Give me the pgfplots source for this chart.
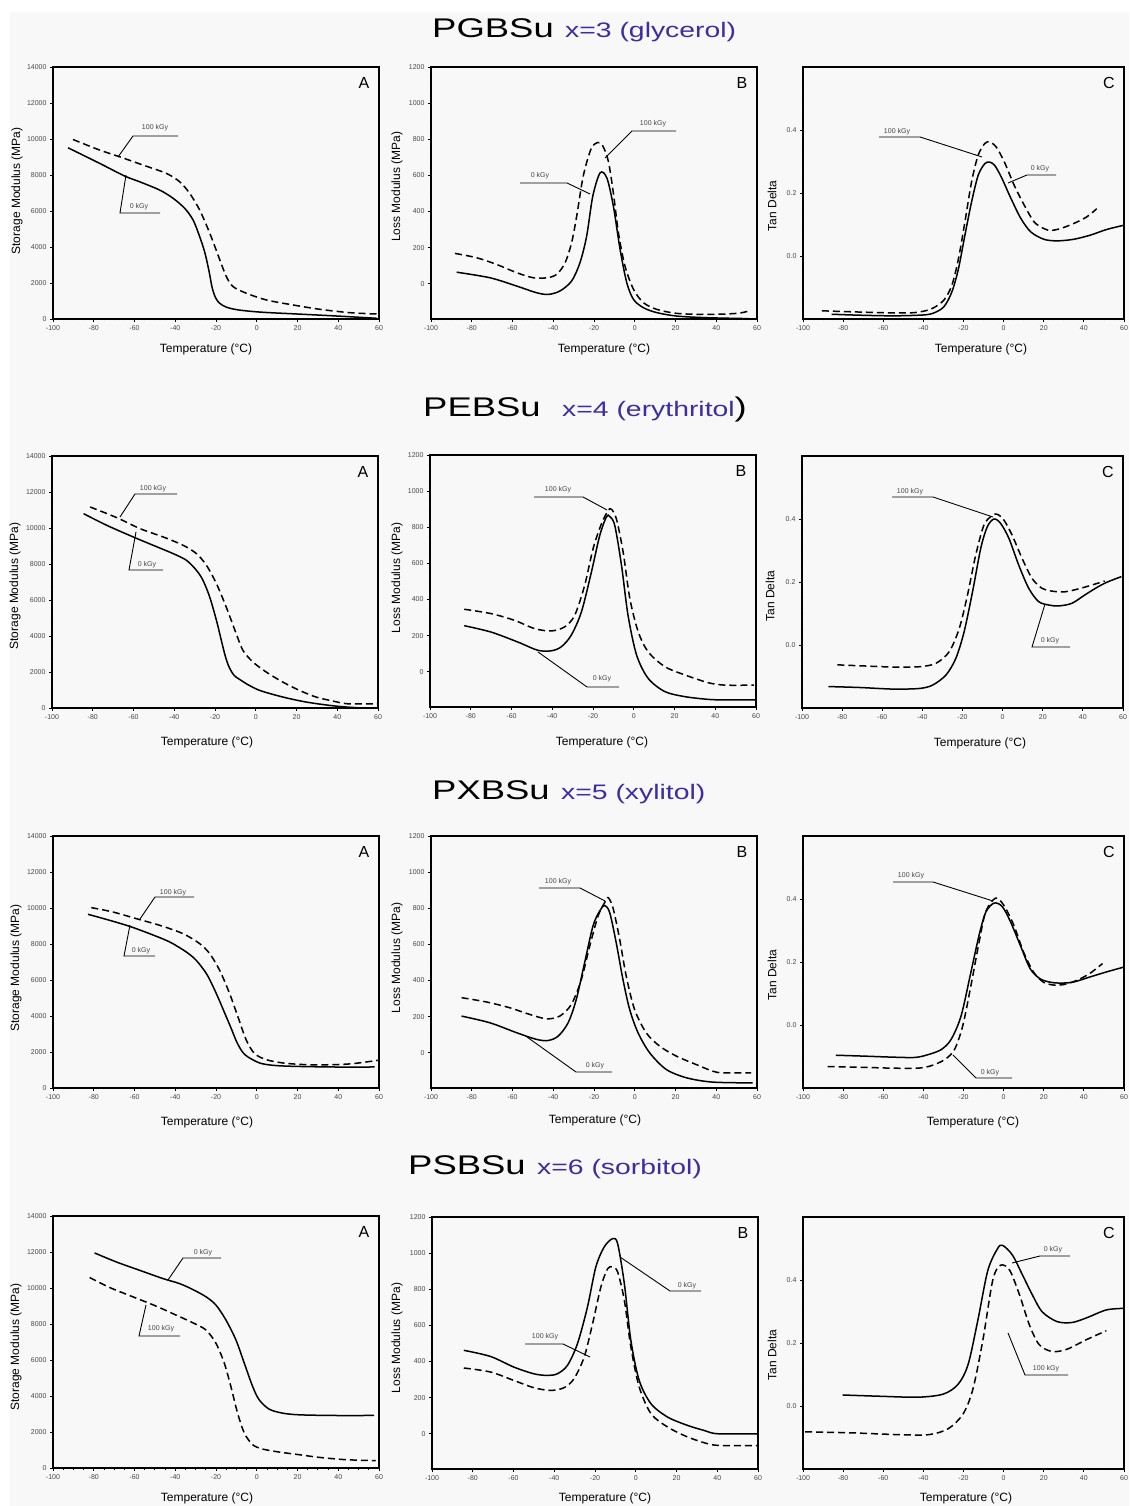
\documentclass[border=0pt]{standalone}
\usepackage{pgfplots}
\pgfplotsset{compat=1.18}
\usepackage{fontspec}
\setmainfont{Liberation Sans}
\definecolor{titleblue}{RGB}{60,45,160}
\definecolor{bg}{RGB}{248,248,248}
\definecolor{tl}{RGB}{70,70,70}

\pgfplotsset{
 panel/.style={
  scale only axis, width=326pt, height=252pt,
  anchor=south west,
  xmin=-100, xmax=60, xtick={-100,-80,...,60},
  minor x tick num=3,
  scaled x ticks=false, scaled y ticks=false,
  tick pos=left, tick align=outside,
  major tick length=3pt, minor tick length=1.5pt,
  every tick/.style={black, line width=0.8pt},
  axis line style={line width=1.6pt},
  axis background/.style={fill=bg},
  ticklabel style={font=\fontsize{7}{8}\selectfont, text=tl},
  /pgf/number format/assume math mode=true,
  /pgf/number format/set thousands separator={},
  every axis plot/.append style={line width=1.5pt, smooth, tension=0.5},
 },
 pA/.style={panel, ymin=0, ymax=14000, ytick={0,2000,...,14000}, minor y tick num=3},
 pB/.style={panel, ymin=-195, ymax=1200, ytick={0,200,...,1200}, minor y tick num=3},
 pC/.style={panel, width=321pt, ymin=-0.2, ymax=0.6, ytick={0,0.2,0.4}, minor ytick={-0.2,-0.15,...,0.6},
   yticklabel style={/pgf/number format/fixed, /pgf/number format/fixed zerofill, /pgf/number format/precision=1}},
 zero/.style={black, solid},
 hund/.style={black, dash pattern=on 7pt off 4pt},
}
\newcommand{\plet}[1]{\node[font=\fontsize{16}{18}\selectfont] at (rel axis cs:1,1) [xshift=-15pt,yshift=-16pt] {#1};}

\begin{document}
\begin{tikzpicture}[x=1pt,y=1pt]
\path[use as bounding box] (0,0) rectangle (1129,1506);
\fill[white] (0,0) rectangle (1129,1506);
\fill[bg] (10,0) rectangle (1129,1494);

% ================= Row 1 : PGBSu =================
\begin{axis}[pA, at={(53pt,1187pt)}]
\addplot[zero] coordinates {(-92.6,9510) (-77,8640) (-64.8,7940) (-57.4,7620) (-47.6,7160) (-41,6700) (-35.3,6140) (-31.2,5490) (-28,4570) (-25.5,3700) (-23.5,2700) (-22,1800) (-20.5,1250) (-18.5,900) (-15,660) (-10,520) (-3.4,430) (4.8,360) (19.6,278) (39,166) (58.8,40)};
\addplot[hund] coordinates {(-90.2,9970) (-77,9380) (-67.3,9010) (-55.8,8550) (-44.3,8085) (-37.8,7620) (-32.9,6975) (-28,6050) (-23,4750) (-18.1,3275) (-14.9,2350) (-11.6,1795) (-5,1425) (4.8,1055) (17.9,777) (31,537) (45.7,350) (58.8,277)};
\plet{A}
\end{axis}
\begin{axis}[pB, at={(431pt,1187pt)}]
\addplot[zero] coordinates {(-87.4,64) (-71,33) (-57.9,-13) (-48.1,-50) (-42.4,-59) (-36.7,-40) (-31,15) (-26.9,116) (-23.6,264) (-20.6,485) (-17,614) (-13.7,586) (-10.5,430) (-7.2,190) (-3.9,5) (-0.6,-87) (4.3,-133) (10.9,-160) (20.7,-179) (35.4,-188) (55.9,-193)};
\addplot[hund] coordinates {(-88.2,168) (-77.6,144) (-67.8,107) (-57.9,61) (-49.7,33) (-43.2,33) (-38.3,52) (-34.2,116) (-31,227) (-28.5,374) (-25.3,595) (-21.5,745) (-18.3,782) (-15.8,765) (-13,680) (-10.5,503) (-8,282) (-4.8,98) (-0.6,-31) (4.3,-105) (10.9,-142) (20.7,-164) (35.4,-170) (50.1,-164) (55.9,-151)};
\plet{B}
\end{axis}
\begin{axis}[pC, at={(803pt,1187pt)}]
\addplot[zero] coordinates {(-85.7,-0.185) (-71.8,-0.188) (-55.4,-0.19) (-42.2,-0.188) (-35.7,-0.183) (-29.9,-0.162) (-25.8,-0.114) (-22.5,-0.04) (-19.3,0.066) (-16,0.171) (-12.7,0.256) (-9.4,0.293) (-7,0.298) (-4.5,0.288) (-1.2,0.251) (3.7,0.182) (8.6,0.119) (13.6,0.076) (20.1,0.053) (26.7,0.048) (34.9,0.053) (43.1,0.066) (51.3,0.084) (59.5,0.097)};
\addplot[hund] coordinates {(-90.6,-0.174) (-71.8,-0.178) (-50.4,-0.181) (-42.2,-0.178) (-35.7,-0.167) (-29.9,-0.141) (-25.8,-0.093) (-22.5,-0.008) (-19.3,0.108) (-16,0.235) (-12.7,0.32) (-9.4,0.357) (-7,0.362) (-3.7,0.346) (0.4,0.298) (5.3,0.224) (10.3,0.161) (15.2,0.108) (20.1,0.087) (23.4,0.081) (28.3,0.087) (34.9,0.103) (41.4,0.124) (46.4,0.15)};
\plet{C}
\end{axis}

% ================= Row 2 : PEBSu =================
\begin{axis}[pA, at={(52pt,798pt)}]
\addplot[zero] coordinates {(-84.5,10796) (-73.1,10148) (-60.1,9500) (-50.3,9037) (-40.5,8574) (-34,8204) (-29.1,7648) (-25.9,7093) (-22.6,6167) (-19.3,4870) (-16.9,3759) (-15,2900) (-13,2250) (-10.5,1800) (-7,1520) (-4.7,1352) (1.8,981) (13.2,611) (24.6,333) (36,148) (44.2,56) (52,0)};
\addplot[hund] coordinates {(-81.3,11167) (-68.2,10574) (-56.8,9963) (-45.4,9500) (-35.6,9037) (-29.1,8574) (-24.2,7926) (-19.3,6907) (-14.5,5611) (-9.6,4130) (-6.3,3204) (-1.4,2556) (5.1,2000) (13.2,1444) (21.4,981) (29.5,611) (37.7,389) (44.2,241) (50,230) (60,230)};
\plet{A}
\end{axis}
\begin{axis}[pB, at={(430pt,799pt)}]
\addplot[zero] coordinates {(-83.2,255) (-70.1,220) (-57,165) (-47.1,119) (-40.5,116) (-35.6,138) (-30.7,202) (-25.7,331) (-20.8,551) (-16.7,754) (-13.4,858) (-11.8,860) (-9.3,809) (-6,588) (-2.8,312) (1.4,92) (7.1,-37) (15.3,-110) (25.2,-138) (36.7,-153) (44.9,-156) (59.7,-156)};
\addplot[hund] coordinates {(-83.2,346) (-70.1,322) (-58.6,285) (-48.7,239) (-40.5,226) (-34,248) (-29,312) (-24.1,478) (-20,680) (-15.9,818) (-12.6,892) (-11,900) (-8.5,846) (-5.2,662) (-1.9,404) (2.2,221) (7.1,110) (15.3,28) (25.2,-18) (36.7,-61) (44.9,-74) (58.9,-74)};
\plet{B}
\end{axis}
\begin{axis}[pC, at={(802pt,798pt)}]
\addplot[zero] coordinates {(-86.8,-0.132) (-71.1,-0.135) (-54.6,-0.14) (-41.4,-0.138) (-34.8,-0.127) (-28.2,-0.095) (-23.3,-0.042) (-19.2,0.042) (-15,0.169) (-10.9,0.307) (-7.6,0.376) (-4.3,0.4) (-1,0.386) (3.1,0.339) (8,0.254) (13,0.18) (17.9,0.138) (22.9,0.127) (27.8,0.124) (34.4,0.132) (41,0.159) (47.6,0.185) (52.6,0.201) (59.2,0.217)};
\addplot[hund] coordinates {(-82.4,-0.063) (-71.1,-0.066) (-54.6,-0.07) (-41.4,-0.069) (-33.2,-0.058) (-26.6,-0.021) (-21.6,0.053) (-17.5,0.159) (-13.4,0.286) (-9.3,0.381) (-5.2,0.411) (-2.7,0.415) (0.6,0.397) (4.7,0.349) (9.7,0.275) (14.6,0.212) (19.6,0.18) (24.5,0.171) (31.1,0.169) (37.7,0.178) (44.3,0.19) (50.9,0.203)};
\plet{C}
\end{axis}

% ================= Row 3 : PXBSu =================
\begin{axis}[pA, at={(53pt,418pt)}]
\addplot[zero] coordinates {(-82.8,9648) (-72.2,9315) (-62.4,8981) (-52.6,8574) (-42.7,8111) (-34.6,7556) (-29.7,7093) (-24.7,6352) (-21.5,5650) (-18.5,4900) (-15.5,4100) (-12.5,3300) (-9.8,2550) (-7,2000) (-4.3,1722) (1.4,1389) (8,1259) (17.8,1204) (37.4,1167) (57.9,1167)};
\addplot[hund] coordinates {(-81.2,10019) (-70.6,9778) (-59.1,9407) (-47.6,9037) (-36.2,8574) (-28,8019) (-23.1,7463) (-18.2,6537) (-13.3,5241) (-9.2,3944) (-5.1,2648) (-1,1907) (4.7,1574) (12.9,1389) (24.3,1296) (37.4,1296) (47.2,1352) (59.5,1537)};
\plet{A}
\end{axis}
\begin{axis}[pB, at={(431pt,418pt)}]
\addplot[zero] coordinates {(-85,203) (-71.1,166) (-58,111) (-48.2,74) (-42.5,68) (-37.6,92) (-32.7,166) (-28.7,295) (-24.6,499) (-20.5,702) (-17.2,785) (-14.8,815) (-12.3,776) (-9.1,609) (-5.8,406) (-2.5,240) (1.6,111) (7.3,0) (15.4,-92) (25.2,-138) (36.7,-161) (49.7,-166) (57.9,-166)};
\addplot[hund] coordinates {(-85,305) (-72.7,281) (-61.3,249) (-51.5,212) (-43.3,188) (-36.8,203) (-31.1,268) (-26.2,406) (-22.1,591) (-18,757) (-14.8,831) (-13.1,859) (-10.7,803) (-7.4,628) (-4.2,425) (-0.1,240) (5.6,111) (12.2,37) (20.3,-18) (30.1,-65) (38.3,-102) (43.2,-111) (57.1,-111)};
\plet{B}
\end{axis}
\begin{axis}[pC, at={(803pt,418pt)}]
\addplot[zero] coordinates {(-83.6,-0.096) (-68.8,-0.099) (-55.7,-0.102) (-44.2,-0.103) (-37.6,-0.094) (-31.1,-0.078) (-26.2,-0.046) (-21.2,0.029) (-16.3,0.168) (-12.2,0.286) (-8.9,0.358) (-4.8,0.387) (-0.7,0.376) (3.4,0.328) (8.3,0.253) (13.2,0.179) (18.1,0.147) (23.1,0.136) (28,0.133) (34.6,0.136) (42.8,0.152) (51,0.168) (60,0.184)};
\addplot[hund] coordinates {(-87.7,-0.132) (-72.1,-0.134) (-55.7,-0.137) (-42.6,-0.137) (-36,-0.129) (-29.4,-0.11) (-24.5,-0.078) (-20.4,-0.003) (-16.3,0.125) (-12.2,0.264) (-8.9,0.36) (-4,0.403) (0.1,0.38) (5,0.318) (9.9,0.232) (14.9,0.168) (19.8,0.136) (24.7,0.127) (29.6,0.128) (36.2,0.141) (42.8,0.163) (49.3,0.195)};
\plet{C}
\end{axis}

% ================= Row 4 : PSBSu =================
\begin{axis}[pA, at={(53pt,38pt)}]
\addplot[zero] coordinates {(-79.6,11948) (-69,11450) (-57.6,10988) (-46.1,10526) (-38,10249) (-31.4,9917) (-24.9,9511) (-20,9049) (-15.1,8218) (-10.2,7110) (-6.1,5817) (-2,4524) (1.2,3786) (6.1,3269) (12.7,3047) (20.8,2955) (37.1,2918) (57.6,2918)};
\addplot[hund] coordinates {(-82,10582) (-72.2,10028) (-60.8,9511) (-49.4,8994) (-39.6,8495) (-31.4,8070) (-24.9,7664) (-20,6925) (-15.9,5817) (-12.7,4524) (-9.4,3047) (-6.1,1939) (-2,1293) (2.9,1053) (11,886) (20.8,739) (30.6,591) (43.7,462) (58.4,406)};
\plet{A}
\end{axis}
\begin{axis}[pB, at={(432pt,37pt)}]
\addplot[zero] coordinates {(-84.4,462) (-71.3,428) (-59.8,369) (-50,332) (-43.4,323) (-38.5,332) (-33.5,379) (-28.6,499) (-23.7,702) (-19.6,923) (-15.5,1034) (-11.4,1080) (-8.9,1053) (-5.6,831) (-2.4,517) (1.7,295) (7.5,166) (15.7,92) (25.5,46) (33.7,18) (40.3,0) (60,0)};
\addplot[hund] coordinates {(-84.4,364) (-71.3,342) (-59.8,295) (-50,255) (-41.8,240) (-35.2,255) (-30.3,305) (-25.3,425) (-21.2,609) (-17.1,813) (-13.8,914) (-11.4,923) (-8.9,896) (-5.6,739) (-2.4,480) (1.7,259) (7.5,111) (15.7,37) (25.5,-18) (35.3,-55) (41.8,-65) (60,-65)};
\plet{B}
\end{axis}
\begin{axis}[pC, at={(803pt,37pt)}]
\addplot[zero] coordinates {(-80.3,0.035) (-62,0.031) (-42.4,0.028) (-30,0.038) (-22.7,0.069) (-17.7,0.132) (-12.8,0.274) (-7.9,0.43) (-3,0.5) (-0.5,0.51) (4.4,0.479) (9.4,0.416) (14.3,0.353) (19.2,0.299) (26.6,0.268) (34,0.265) (41.4,0.28) (51.2,0.305) (60,0.31)};
\addplot[hund] coordinates {(-99,-0.082) (-76.8,-0.085) (-52.2,-0.091) (-37.4,-0.091) (-27.6,-0.072) (-20.2,-0.025) (-15.3,0.054) (-10.3,0.211) (-5.4,0.4) (-1.5,0.447) (3,0.431) (7.9,0.353) (12.8,0.258) (17.7,0.195) (24.1,0.173) (31.5,0.18) (41.4,0.211) (51.2,0.239)};
\plet{C}
\end{axis}

% ---------- rotated y labels ----------
\begin{scope}[every node/.style={font=\fontsize{12}{14}\selectfont, rotate=90, inner sep=0}]
\node at (17,1315) {Storage Modulus (MPa)};
\node at (397,1319) {Loss Modulus (MPa)};
\node at (772,1300) {Tan Delta};
\node at (15,920) {Storage Modulus (MPa)};
\node at (397,928) {Loss Modulus (MPa)};
\node at (770,910) {Tan Delta};
\node at (16,538) {Storage Modulus (MPa)};
\node at (397,548) {Loss Modulus (MPa)};
\node at (772,531) {Tan Delta};
\node at (16,159) {Storage Modulus (MPa)};
\node at (397,168) {Loss Modulus (MPa)};
\node at (772,151) {Tan Delta};
\end{scope}

% ---------- everything else in image coordinates ----------
\begin{scope}[shift={(0,1506)}, yscale=-1]
% titles
\node[anchor=base west, inner sep=0] at (432,38) {\scalebox{1.35}[1]{\fontsize{27}{30}\selectfont PGBSu}};
\node[anchor=base west, inner sep=0] at (565,38) {\scalebox{1.35}[1]{\fontsize{21}{24}\selectfont\color{titleblue}x=3 (glycerol)}};
\node[anchor=base west, inner sep=0] at (423,417) {\scalebox{1.35}[1]{\fontsize{27}{30}\selectfont PEBSu}};
\node[anchor=base west, inner sep=0] at (562,417) {\scalebox{1.35}[1]{\fontsize{21}{24}\selectfont{\color{titleblue}x=4 (erythritol}{\fontsize{27}{30}\selectfont)}}};
\node[anchor=base west, inner sep=0] at (432,800) {\scalebox{1.35}[1]{\fontsize{27}{30}\selectfont PXBSu}};
\node[anchor=base west, inner sep=0] at (561,800) {\scalebox{1.35}[1]{\fontsize{21}{24}\selectfont\color{titleblue}x=5 (xylitol)}};
\node[anchor=base west, inner sep=0] at (408,1175) {\scalebox{1.35}[1]{\fontsize{27}{30}\selectfont PSBSu}};
\node[anchor=base west, inner sep=0] at (537,1175) {\scalebox{1.35}[1]{\fontsize{21}{24}\selectfont\color{titleblue}x=6 (sorbitol)}};

% x labels
\begin{scope}[every node/.style={font=\fontsize{12}{14}\selectfont, inner sep=0}]
\node at (206,349) {Temperature (\textdegree C)};
\node at (604,349) {Temperature (\textdegree C)};
\node at (981,349) {Temperature (\textdegree C)};
\node at (207,742) {Temperature (\textdegree C)};
\node at (602,742) {Temperature (\textdegree C)};
\node at (980,743) {Temperature (\textdegree C)};
\node at (207,1122) {Temperature (\textdegree C)};
\node at (595,1120) {Temperature (\textdegree C)};
\node at (973,1122) {Temperature (\textdegree C)};
\node at (207,1498) {Temperature (\textdegree C)};
\node at (605,1498) {Temperature (\textdegree C)};
\node at (966,1498) {Temperature (\textdegree C)};
\end{scope}

% annotations
\begin{scope}[every node/.style={font=\fontsize{7}{8}\selectfont, text=tl, inner sep=0}, line width=0.9pt]
% row 1
\node at (155,128) {100 kGy}; \draw (118,157)--(133,136)--(178,136);
\node at (139,207) {0 kGy}; \draw (126,175)--(120,213)--(160,213);
\node at (653,124) {100 kGy}; \draw (605,158)--(632,131)--(676,131);
\node at (540,176) {0 kGy}; \draw (590,194)--(567,183)--(520,183);
\node at (897,132) {100 kGy}; \draw (982,157)--(920,137)--(879,137);
\node at (1040,169) {0 kGy}; \draw (1008,183)--(1027,175)--(1056,175);
% row 2
\node at (153,489) {100 kGy}; \draw (120,517)--(135,494)--(177,494);
\node at (147,565) {0 kGy}; \draw (136,532)--(129,570)--(163,570);
\node at (558,490) {100 kGy}; \draw (607,510)--(583,497)--(534,497);
\node at (602,679) {0 kGy}; \draw (538,652)--(587,687)--(619,687);
\node at (910,492) {100 kGy}; \draw (993,517)--(933,497)--(892,497);
\node at (1050,641) {0 kGy}; \draw (1045,604)--(1032,647)--(1070,647);
% row 3
\node at (173,893) {100 kGy}; \draw (140,919)--(155,897)--(194,897);
\node at (141,951) {0 kGy}; \draw (130,925)--(124,956)--(155,956);
\node at (558,882) {100 kGy}; \draw (605,901)--(580,888)--(539,888);
\node at (595,1066) {0 kGy}; \draw (527,1037)--(576,1072)--(612,1072);
\node at (911,876) {100 kGy}; \draw (993,901)--(933,882)--(893,882);
\node at (990,1073) {0 kGy}; \draw (953,1055)--(976,1078)--(1012,1078);
% row 4
\node at (203,1253) {0 kGy}; \draw (168,1280)--(183,1258)--(221,1258);
\node at (161,1329) {100 kGy}; \draw (146,1305)--(139,1336)--(180,1336);
\node at (687,1286) {0 kGy}; \draw (620,1257)--(670,1291)--(701,1291);
\node at (545,1337) {100 kGy}; \draw (590,1357)--(563,1344)--(525,1344);
\node at (1053,1250) {0 kGy}; \draw (1012,1263)--(1040,1256)--(1070,1256);
\node at (1046,1369) {100 kGy}; \draw (1008,1333)--(1025,1375)--(1068,1375);
\end{scope}
\end{scope}
\end{tikzpicture}
\end{document}
